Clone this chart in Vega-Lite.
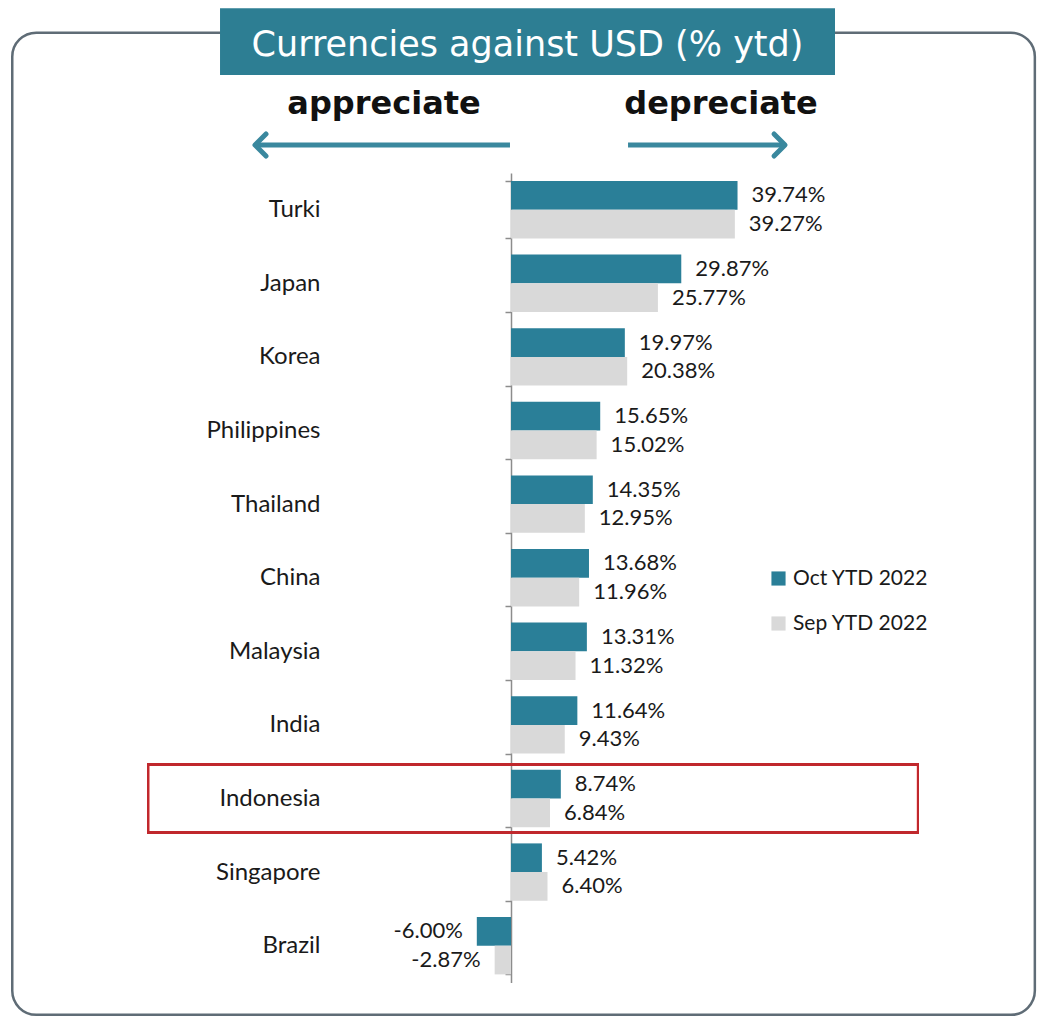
{
  "$schema": "https://vega.github.io/schema/vega-lite/v6.json",
  "width": 1041,
  "height": 1021,
  "autosize": {"type": "none"},
  "padding": 0,
  "background": "white",
  "config": {
    "view": {"stroke": null},
    "font": "Lato",
    "locale": {"number": {"decimal": ".", "thousands": ",", "grouping": [3], "currency": ["$", ""], "minus": "-"}}
  },
  "resolve": {"scale": {"y": "independent"}},
  "layer": [
    {
      "data": {
        "values": [
          {"country": "Turki", "series": "Oct YTD 2022", "value": 0.3974},
          {"country": "Turki", "series": "Sep YTD 2022", "value": 0.3927},
          {"country": "Japan", "series": "Oct YTD 2022", "value": 0.2987},
          {"country": "Japan", "series": "Sep YTD 2022", "value": 0.2577},
          {"country": "Korea", "series": "Oct YTD 2022", "value": 0.1997},
          {"country": "Korea", "series": "Sep YTD 2022", "value": 0.2038},
          {"country": "Philippines", "series": "Oct YTD 2022", "value": 0.1565},
          {"country": "Philippines", "series": "Sep YTD 2022", "value": 0.1502},
          {"country": "Thailand", "series": "Oct YTD 2022", "value": 0.1435},
          {"country": "Thailand", "series": "Sep YTD 2022", "value": 0.1295},
          {"country": "China", "series": "Oct YTD 2022", "value": 0.1368},
          {"country": "China", "series": "Sep YTD 2022", "value": 0.1196},
          {"country": "Malaysia", "series": "Oct YTD 2022", "value": 0.1331},
          {"country": "Malaysia", "series": "Sep YTD 2022", "value": 0.1132},
          {"country": "India", "series": "Oct YTD 2022", "value": 0.1164},
          {"country": "India", "series": "Sep YTD 2022", "value": 0.0943},
          {"country": "Indonesia", "series": "Oct YTD 2022", "value": 0.0874},
          {"country": "Indonesia", "series": "Sep YTD 2022", "value": 0.0684},
          {"country": "Singapore", "series": "Oct YTD 2022", "value": 0.0542},
          {"country": "Singapore", "series": "Sep YTD 2022", "value": 0.064},
          {"country": "Brazil", "series": "Oct YTD 2022", "value": -0.06},
          {"country": "Brazil", "series": "Sep YTD 2022", "value": -0.0287}
        ]
      },
      "encoding": {
        "y": {
          "field": "country",
          "type": "nominal",
          "sort": null,
          "scale": {"range": [172.9, 982.5], "paddingInner": 0.22, "paddingOuter": 0.11},
          "axis": {
            "orient": "left",
            "offset": -511,
            "title": null,
            "domain": true,
            "domainColor": "#8c8c8c",
            "domainWidth": 1.5,
            "ticks": true,
            "tickBand": "extent",
            "tickSize": 6,
            "tickColor": "#8c8c8c",
            "tickWidth": 1.5,
            "labelPadding": 185,
            "labelFont": "Lato",
            "labelFontSize": 24,
            "labelColor": "#1a1a1a"
          }
        }
      },
      "layer": [
        {
          "mark": {"type": "bar"},
          "encoding": {
            "x": {"field": "value", "type": "quantitative", "scale": {"domain": [-0.8965, 0.9298], "nice": false, "zero": false}, "axis": null},
            "x2": {"datum": 0},
            "yOffset": {"field": "series", "type": "nominal", "scale": {"domain": ["Oct YTD 2022", "Sep YTD 2022"], "paddingInner": 0, "paddingOuter": 0}},
            "color": {
              "field": "series",
              "type": "nominal",
              "scale": {"domain": ["Oct YTD 2022", "Sep YTD 2022"], "range": ["#2a7f98", "#d9d9d9"]},
              "legend": {
                "orient": "none",
                "legendX": 768,
                "legendY": 568,
                "title": null,
                "padding": 0,
                "symbolType": "square",
                "symbolSize": 200,
                "symbolStrokeWidth": 0,
                "labelFont": "Lato",
                "labelFontSize": 21,
                "labelColor": "#1a1a1a",
                "rowPadding": 23,
                "labelOffset": 4
              }
            }
          }
        },
        {
          "transform": [{"filter": "datum.value >= 0"}],
          "mark": {"type": "text", "align": "left", "baseline": "middle", "dx": 14, "fontSize": 22, "font": "Lato", "color": "#1a1a1a"},
          "encoding": {
            "x": {"field": "value", "type": "quantitative", "scale": {"domain": [-0.8965, 0.9298], "nice": false, "zero": false}, "axis": null},
            "yOffset": {"field": "series", "type": "nominal", "scale": {"domain": ["Oct YTD 2022", "Sep YTD 2022"], "paddingInner": 0, "paddingOuter": 0}},
            "text": {"field": "value", "type": "quantitative", "format": ".2%"}
          }
        },
        {
          "transform": [{"filter": "datum.value < 0"}],
          "mark": {"type": "text", "align": "right", "baseline": "middle", "dx": -14, "fontSize": 22, "font": "Lato", "color": "#1a1a1a"},
          "encoding": {
            "x": {"field": "value", "type": "quantitative", "scale": {"domain": [-0.8965, 0.9298], "nice": false, "zero": false}, "axis": null},
            "yOffset": {"field": "series", "type": "nominal", "scale": {"domain": ["Oct YTD 2022", "Sep YTD 2022"], "paddingInner": 0, "paddingOuter": 0}},
            "text": {"field": "value", "type": "quantitative", "format": ".2%"}
          }
        },
        {
          "mark": {"type": "bar", "height": {"band": 1.19}, "fill": null, "fillOpacity": 0, "stroke": "#c0282d", "strokeWidth": 2},
          "encoding": {
            "x": {"datum": -0.6368, "type": "quantitative", "scale": {"domain": [-0.8965, 0.9298], "nice": false, "zero": false}, "axis": null},
            "x2": {"datum": 0.714},
            "y": {"datum": "Indonesia", "type": "nominal"}
          }
        }
      ]
    },
    {
      "data": {"values": [{}]},
      "layer": [
        {
          "mark": {"type": "rect", "cornerRadius": 24, "fill": null, "fillOpacity": 0, "stroke": "#5f6c76", "strokeWidth": 2.5},
          "encoding": {
            "x": {"datum": -0.875, "type": "quantitative", "scale": {"domain": [-0.8965, 0.9298], "nice": false, "zero": false}, "axis": null},
            "x2": {"datum": 0.919},
            "y": {"datum": 3.2, "type": "quantitative", "scale": {"domain": [0, 100], "reverse": true, "nice": false, "zero": false}, "axis": null},
            "y2": {"datum": 99.4}
          }
        },
        {
          "mark": {"type": "rect", "fill": "#2d7e93"},
          "encoding": {
            "x": {"datum": -0.5105, "type": "quantitative"},
            "x2": {"datum": 0.5684},
            "y": {"datum": 0.8, "type": "quantitative"},
            "y2": {"datum": 7.35}
          }
        },
        {
          "mark": {"type": "text", "text": "Currencies against USD (% ytd)", "font": "DejaVu Sans", "fontSize": 35, "color": "white", "align": "center", "baseline": "middle"},
          "encoding": {
            "x": {"datum": 0.0289, "type": "quantitative"},
            "y": {"datum": 4.4, "type": "quantitative"}
          }
        },
        {
          "mark": {"type": "text", "text": "appreciate", "font": "DejaVu Sans", "fontWeight": "bold", "fontSize": 32, "color": "#111111", "align": "center", "baseline": "middle"},
          "encoding": {
            "x": {"datum": -0.2228, "type": "quantitative"},
            "y": {"datum": 10.2, "type": "quantitative"}
          }
        },
        {
          "mark": {"type": "text", "text": "depreciate", "font": "DejaVu Sans", "fontWeight": "bold", "fontSize": 32, "color": "#111111", "align": "center", "baseline": "middle"},
          "encoding": {
            "x": {"datum": 0.3684, "type": "quantitative"},
            "y": {"datum": 10.2, "type": "quantitative"}
          }
        },
        {
          "mark": {"type": "rule", "color": "#3a889e", "strokeWidth": 5},
          "encoding": {
            "x": {"datum": -0.447, "type": "quantitative"},
            "x2": {"datum": -0.0018},
            "y": {"datum": 14.2, "type": "quantitative"}
          }
        },
        {
          "mark": {"type": "rule", "color": "#3a889e", "strokeWidth": 5},
          "encoding": {
            "x": {"datum": 0.2053, "type": "quantitative"},
            "x2": {"datum": 0.478},
            "y": {"datum": 14.2, "type": "quantitative"}
          }
        },
        {
          "mark": {"type": "point", "shape": "M 0.5 -1 L -0.5 0 L 0.5 1", "size": 484, "filled": false, "stroke": "#3a889e", "strokeWidth": 5, "opacity": 1, "strokeCap": "round", "strokeJoin": "round"},
          "encoding": {
            "x": {"datum": -0.4395, "type": "quantitative"},
            "y": {"datum": 14.2, "type": "quantitative"}
          }
        },
        {
          "mark": {"type": "point", "shape": "M -0.5 -1 L 0.5 0 L -0.5 1", "size": 484, "filled": false, "stroke": "#3a889e", "strokeWidth": 5, "opacity": 1, "strokeCap": "round", "strokeJoin": "round"},
          "encoding": {
            "x": {"datum": 0.4711, "type": "quantitative"},
            "y": {"datum": 14.2, "type": "quantitative"}
          }
        }
      ]
    }
  ]
}
